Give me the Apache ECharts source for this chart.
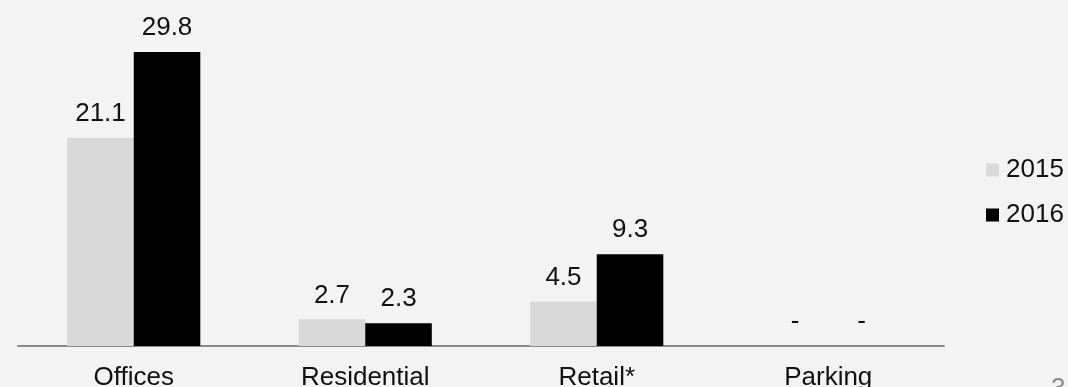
<!DOCTYPE html>
<html>
<head>
<meta charset="utf-8">
<script src="https://cdn.jsdelivr.net/npm/echarts@6/dist/echarts.min.js"></script>
<style>
  html, body { margin: 0; padding: 0; background: #f3f3f3; }
  #chart { width: 1068px; height: 387px; }
</style>
</head>
<body>
<div id="chart"></div>
<script>
const categories = ['Offices', 'Residential', 'Retail*', 'Parking']
const values2015 = [21.1, 2.7, 4.5, 0]
const values2016 = [29.8, 2.3, 9.3, 0]
const seriesNames = ['2015', '2016']

const font = '"Liberation Sans", Arial, sans-serif'

const myChart = echarts.init(document.getElementById('chart'))

const labelOpt = {
  show: true,
  position: 'top',
  distance: 11,
  color: '#111',
  fontSize: 26,
  fontFamily: font,
  formatter: p => (p.value === 0 ? '-' : p.value.toFixed(1))
}

myChart.setOption({
  backgroundColor: '#f3f3f3',
  animation: false,
  color: ['#d9d9d9', '#000000'],
  grid: {
    left: 18,
    right: 124,
    top: 50,
    bottom: 41,
    outerBoundsMode: 'none'
  },
  legend: {
    orient: 'vertical',
    left: 981,
    top: 152,
    itemWidth: 13,
    itemHeight: 13,
    itemGap: 19,
    icon: 'rect',
    textStyle: { fontSize: 26, fontFamily: font, color: '#111', padding: [0, 0, 0, 2] },
    data: seriesNames
  },
  xAxis: {
    type: 'category',
    data: categories,
    axisLine: { lineStyle: { color: '#898989', width: 2 } },
    axisTick: { show: false },
    axisLabel: { margin: 19, fontSize: 26, fontFamily: font, color: '#111' }
  },
  yAxis: {
    type: 'value',
    min: 0,
    max: 30,
    show: false
  },
  series: [
    {
      name: seriesNames[0],
      type: 'bar',
      data: values2015,
      barGap: '0%',
      barCategoryGap: '42.5%',
      label: labelOpt
    },
    {
      name: seriesNames[1],
      type: 'bar',
      data: values2016,
      barGap: '0%',
      barCategoryGap: '42.5%',
      label: labelOpt
    }
  ],
  graphic: [
    {
      type: 'text',
      left: 1051,
      top: 376,
      style: { text: '3', fontSize: 26, fontFamily: font, fill: '#8a8a8a' }
    }
  ]
})
</script>
</body>
</html>
